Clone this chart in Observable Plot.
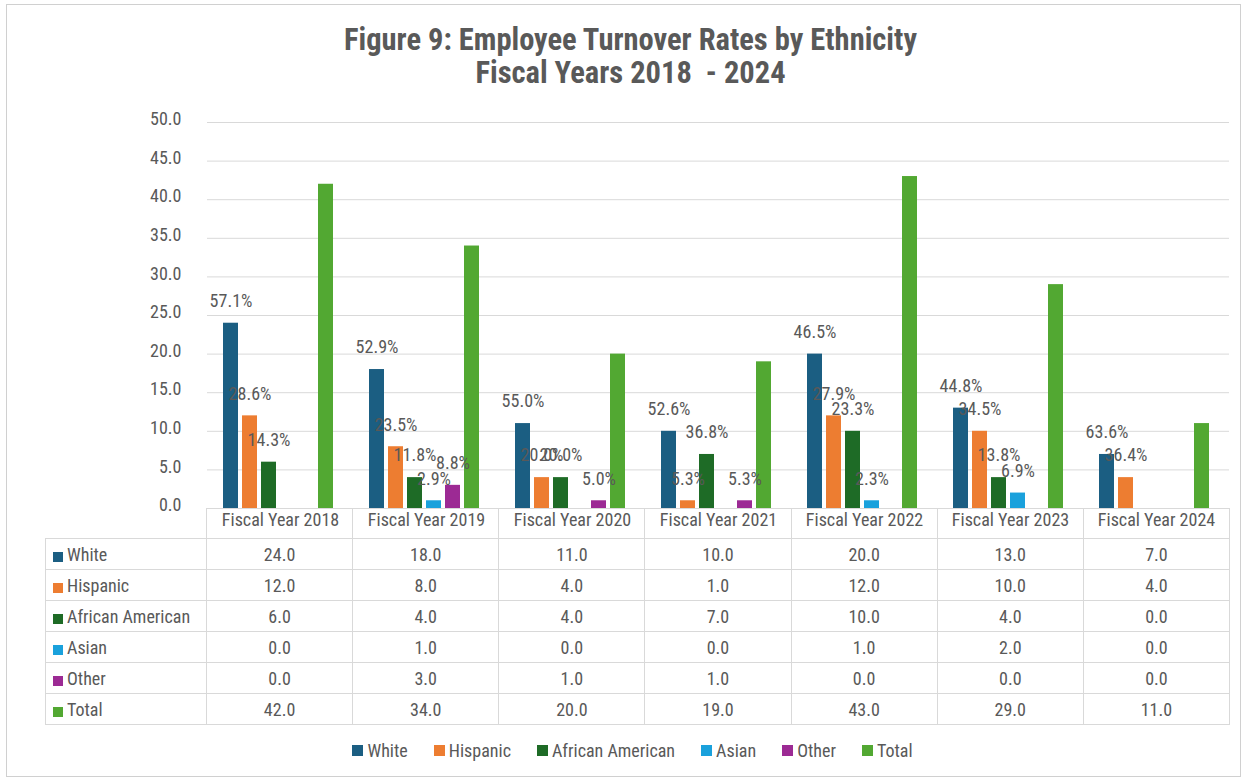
<!DOCTYPE html>
<html>
<head>
<meta charset="utf-8">
<script src="https://cdn.jsdelivr.net/npm/d3@7"></script>
<script src="https://cdn.jsdelivr.net/npm/@observablehq/plot@0.6"></script>
<style>
  body { margin: 0; background: #fff; font-family: "Liberation Sans Narrow", "Arial Narrow", "Roboto Condensed", sans-serif; color: #595959; }
  #wrap { position: relative; width: 1249px; height: 780px; overflow: hidden; background: #fff; }
  #frame { position: absolute; left: 6px; top: 4px; width: 1235px; height: 773px; border: 1px solid #d0d0d0; box-sizing: border-box; }
  #title { position: absolute; left: 6px; top: 23px; width: 1249px; text-align: center; font-weight: bold; font-size: 30.5px; line-height: 33px; white-space: pre; color: #595959; }
  #chart { position: absolute; left: 0; top: 100px; z-index: 2; }
  #tbl { position: absolute; left: 45px; top: 508px; border-collapse: collapse; table-layout: fixed; font-size: 18px; z-index: 1; color: #595959; }
  #tbl td { border: 1px solid #d9d9d9; text-align: center; padding: 0; height: 30px; white-space: nowrap; }
  #tbl tr.hdr td { height: 29px; }
  #tbl tr.hdr td.blank { border-top: none; border-left: none; }
  #tbl td.rl { text-align: left; padding-left: 7px; }
  #tbl .key { display: inline-block; width: 10px; height: 10px; margin-right: 4px; vertical-align: -1px; }
  #legend { position: absolute; left: 8px; top: 735px; width: 1249px; display: flex; justify-content: center; }
  #legend .lg-swatches { font-family: "Liberation Sans Narrow", "Arial Narrow", "Roboto Condensed", sans-serif !important; font-size: 18px !important; color: #595959 !important; margin: 0 !important; min-height: 30px; display: flex; align-items: center; }
  #legend .lg-swatch { margin-right: 26px !important; display: inline-flex; align-items: center; }
  #legend .lg-swatch:last-child { margin-right: 0 !important; }
  #legend .lg-swatch > svg { margin-right: 4px !important; }
</style>
</head>
<body>
<div id="wrap">
  <div id="frame"></div>
  <div id="title"></div>
  <table id="tbl"></table>
  <div id="chart"></div>
  <div id="legend"></div>
</div>
<script>
const FONT = '"Liberation Sans Narrow", "Arial Narrow", "Roboto Condensed", sans-serif';

// ---- data ----
const titleLines = ["Figure 9: Employee Turnover Rates by Ethnicity", "Fiscal Years 2018  - 2024"];
const years = ["Fiscal Year 2018", "Fiscal Year 2019", "Fiscal Year 2020", "Fiscal Year 2021", "Fiscal Year 2022", "Fiscal Year 2023", "Fiscal Year 2024"];
const series = ["White", "Hispanic", "African American", "Asian", "Other", "Total"];
const white           = [24, 18, 11, 10, 20, 13, 7];
const hispanic        = [12, 8, 4, 1, 12, 10, 4];
const africanAmerican = [6, 4, 4, 7, 10, 4, 0];
const asian           = [0, 1, 0, 0, 1, 2, 0];
const other           = [0, 3, 1, 1, 0, 0, 0];
const total           = [42, 34, 20, 19, 43, 29, 11];
const colors = ["#1b5e82", "#ed7d31", "#1e6b26", "#1aa1dc", "#9c2a94", "#52a832"];
const yTicks = [0, 5, 10, 15, 20, 25, 30, 35, 40, 45, 50];

const rows = [white, hispanic, africanAmerican, asian, other, total];
const data = [];
years.forEach((yr, i) => series.forEach((s, j) => data.push({year: yr, series: s, value: rows[j][i], total: total[i]})));
const labeled = data.filter(d => d.series !== "Total" && d.value > 0);

// ---- title ----
document.getElementById("title").textContent = titleLines.join("\n");

// ---- chart ----
const chart = Plot.plot({
  width: 1249,
  height: 438,
  marginTop: 22,
  marginBottom: 30,
  marginLeft: 206,
  marginRight: 20,
  style: {fontFamily: FONT, fontSize: "18px", color: "#595959", background: "transparent", overflow: "visible"},
  fx: {domain: years, padding: 0, label: null},
  x: {domain: series, paddingInner: 0.2, paddingOuter: 0, insetLeft: 14, insetRight: 17, axis: null},
  y: {domain: [0, 50], label: null},
  color: {domain: series, range: colors},
  marks: [
    Plot.gridY(yTicks.filter(t => t > 0), {stroke: "#d9d9d9", strokeOpacity: 1, strokeWidth: 1}),
    Plot.barY(data, {fx: "year", x: "series", y: "value", fill: "series"}),
    Plot.text(labeled, {fx: "year", x: "series", y: "value",
      text: d => (100 * d.value / d.total).toFixed(1) + "%",
      dy: -22, fill: "#595959", fontSize: 18}),
    Plot.axisY(yTicks, {tickSize: 0, tickPadding: 26, tickFormat: d => d.toFixed(1), dy: -3, label: null}),
    Plot.axisFx({anchor: "bottom", tickSize: 0, tickPadding: 5, label: null})
  ]
});
document.getElementById("chart").appendChild(chart);

// ---- data table ----
const tbl = document.getElementById("tbl");
const colgroup = document.createElement("colgroup");
const c0 = document.createElement("col"); c0.style.width = "161px"; colgroup.appendChild(c0);
years.forEach(() => { const c = document.createElement("col"); c.style.width = (1023 / years.length) + "px"; colgroup.appendChild(c); });
tbl.appendChild(colgroup);
const hdr = document.createElement("tr"); hdr.className = "hdr";
const blank = document.createElement("td"); blank.className = "blank"; hdr.appendChild(blank);
years.forEach(() => hdr.appendChild(document.createElement("td")));
tbl.appendChild(hdr);
series.forEach((s, j) => {
  const tr = document.createElement("tr");
  const td = document.createElement("td"); td.className = "rl";
  const key = document.createElement("span"); key.className = "key"; key.style.background = colors[j];
  td.appendChild(key); td.appendChild(document.createTextNode(s));
  tr.appendChild(td);
  rows[j].forEach(v => { const c = document.createElement("td"); c.textContent = v.toFixed(1); tr.appendChild(c); });
  tbl.appendChild(tr);
});

// ---- legend ----
const legend = Plot.legend({color: {domain: series, range: colors}, legend: "swatches", swatchSize: 11, className: "lg"});
document.getElementById("legend").appendChild(legend);
</script>
</body>
</html>
